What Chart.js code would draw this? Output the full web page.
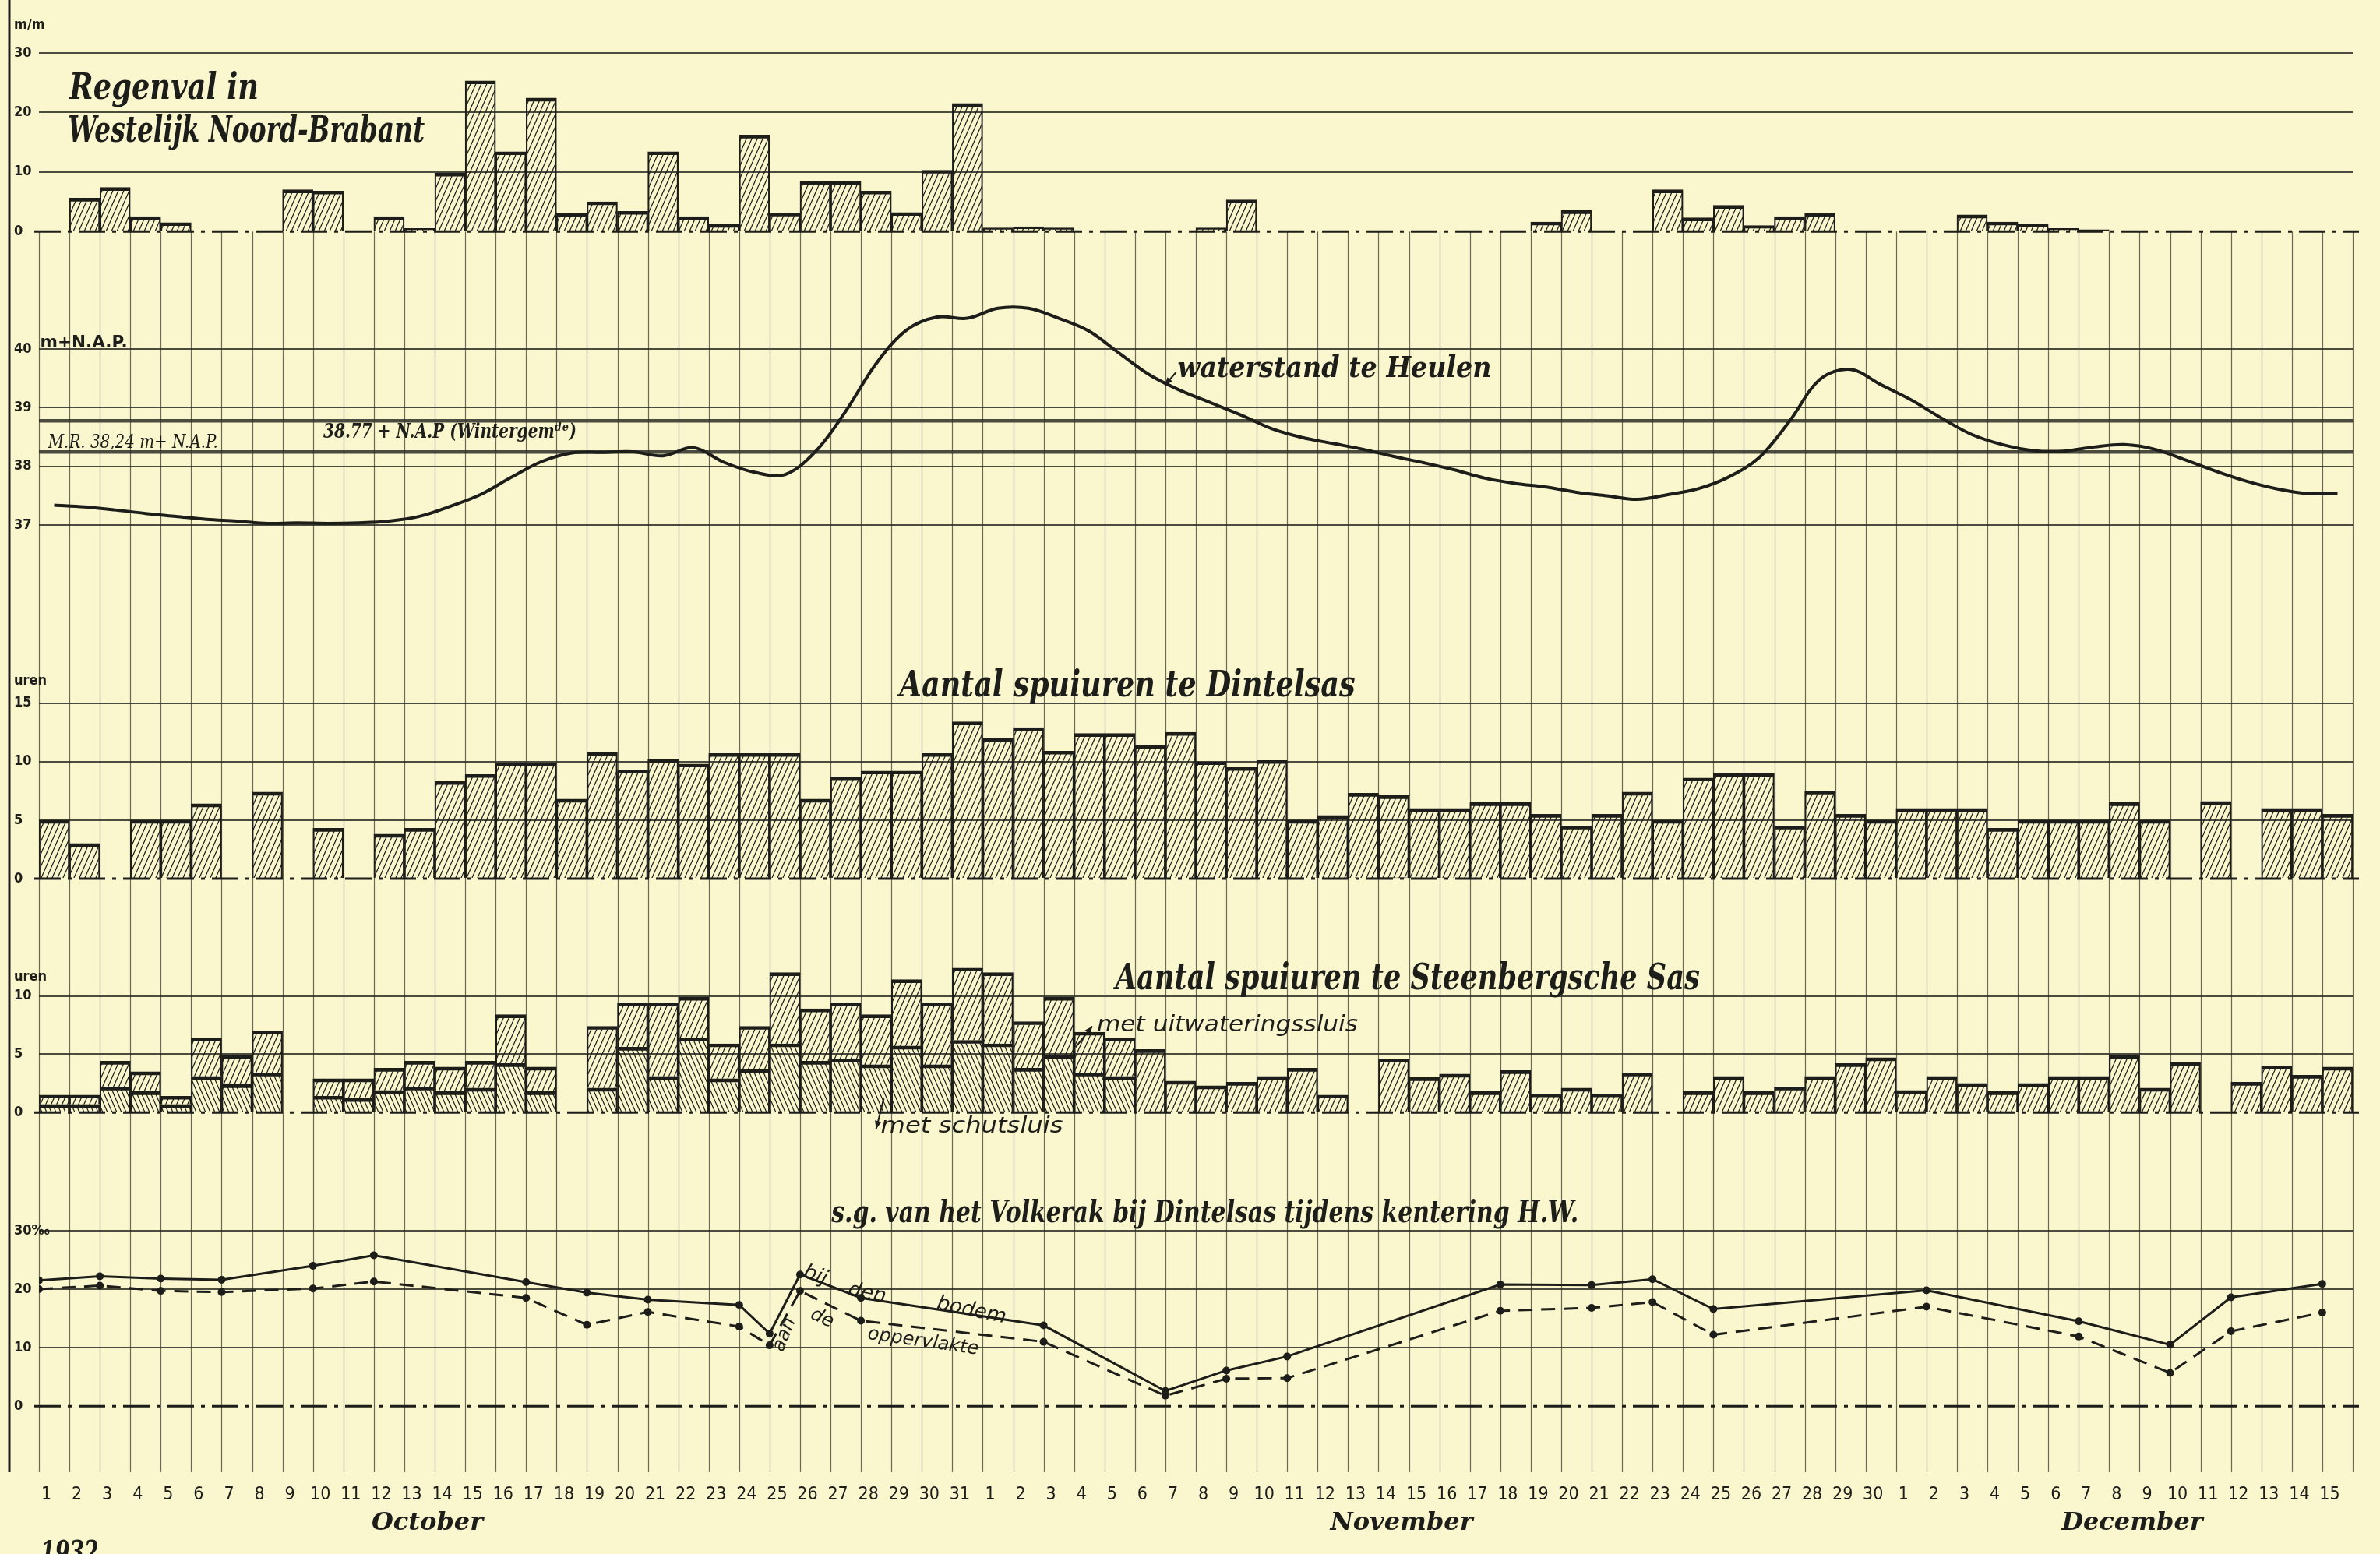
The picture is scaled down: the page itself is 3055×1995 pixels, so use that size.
<!DOCTYPE html>
<html lang="nl">
<head>
<meta charset="utf-8">
<title>Regenval, waterstand en spuiuren - 1932</title>
<script src="https://cdn.jsdelivr.net/npm/chart.js@4.4.1/dist/chart.umd.min.js"></script>
<style>
  html, body { margin: 0; padding: 0; background: #faf6cd; }
  #chart { display: block; }
</style>
</head>
<body>
<canvas id="chart" width="3055" height="1995"></canvas>
<script>
// ----------------------
// Data (1 Oct - 15 Dec)
// ----------------------
const dayLabels = [
    ...Array.from({ length: 31 }, (_, i) => String(i + 1)), // October
    ...Array.from({ length: 30 }, (_, i) => String(i + 1)), // November
    ...Array.from({ length: 15 }, (_, i) => String(i + 1))  // December
];
const monthNames = ['October', 'November', 'December'];
const monthNameAt = [12, 44, 68]; // column under which each month name is written

// Regenval in Westelijk Noord-Brabant (m/m)
const rainfall = [
    0, 5.6, 7.4, 2.5, 1.5, 0, 0, 0, 7.0, 6.8, 0, 2.5, 0.5, 9.8, 25.3, 13.4, 22.4, 3.0, 5.0, 3.4,
    13.4, 2.5, 1.2, 16.2, 3.1, 8.4, 8.4, 6.8, 3.2, 10.3, 21.5,
    0.6, 0.8, 0.6, 0, 0, 0, 0, 0.6, 5.3, 0, 0, 0, 0, 0, 0, 0, 0, 0, 1.6, 3.5,
    0, 0, 7.0, 2.3, 4.4, 1.0, 2.5, 3.0, 0, 0,
    0, 0, 2.8, 1.6, 1.3, 0.5, 0.3, 0, 0, 0, 0, 0, 0, 0, 0
];

// waterstand te Heulen (m + N.A.P.)
const waterLevel = [
    37.34, 37.31, 37.26, 37.20, 37.15, 37.10, 37.07, 37.03, 37.04, 37.03, 37.04, 37.07, 37.15, 37.32,
    37.52, 37.81, 38.08, 38.23, 38.24, 38.25, 38.18, 38.32, 38.07, 37.90, 37.86, 38.25, 38.94, 39.75,
    40.32, 40.54, 40.52,
    40.69, 40.69, 40.52, 40.30, 39.92, 39.55, 39.29, 39.08, 38.87, 38.64, 38.49, 38.39, 38.29, 38.17,
    38.06, 37.94, 37.80, 37.71, 37.65, 37.56, 37.50, 37.44, 37.52, 37.62, 37.82, 38.15, 38.77, 39.48,
    39.65, 39.39,
    39.13, 38.82, 38.54, 38.37, 38.27, 38.26, 38.33, 38.37, 38.29, 38.11, 37.92, 37.75, 37.62, 37.54, 37.54
];
const winterMean = 38.77; // 38.77 + N.A.P (Wintergemiddelde)
const mrLevel = 38.24;    // M.R. 38,24 m + N.A.P.

// Aantal spuiuren te Dintelsas
const dintelsasHours = [
    5.0, 3.0, 0, 5.0, 5.0, 6.4, 0, 7.4, 0, 4.3, 0, 3.8, 4.3, 8.3, 8.9, 9.9, 9.9, 6.8, 10.8, 9.3,
    10.2, 9.8, 10.7, 10.7, 10.7, 6.8, 8.7, 9.2, 9.2, 10.7, 13.4,
    12.0, 12.9, 10.9, 12.4, 12.4, 11.4, 12.5, 10.0, 9.5, 10.1, 5.0, 5.4, 7.3, 7.1, 6.0, 6.0, 6.5, 6.5,
    5.5, 4.5, 5.5, 7.4, 5.0, 8.6, 9.0, 9.0, 4.5, 7.5, 5.5, 5.0,
    6.0, 6.0, 6.0, 4.3, 5.0, 5.0, 5.0, 6.5, 5.0, 0, 6.6, 0, 6.0, 6.0, 5.5
];

// Aantal spuiuren te Steenbergsche Sas
const steenSchutsluis = [
    0.7, 0.7, 2.2, 1.8, 0.7, 3.1, 2.4, 3.4, 0, 1.4, 1.2, 1.9, 2.2, 1.8, 2.1, 4.2, 1.8, 0, 2.1, 5.6,
    3.1, 6.4, 2.9, 3.7, 5.9, 4.4, 4.6, 4.1, 5.7, 4.1, 6.2,
    5.9, 3.8, 4.9, 3.4, 3.1, 0, 0, 0, 0, 0, 0, 0, 0, 0, 0, 0, 0, 0, 0, 0, 0, 0, 0, 0, 0, 0, 0, 0, 0, 0,
    0, 0, 0, 0, 0, 0, 0, 0, 0, 0, 0, 0, 0, 0, 0
];
const steenUitwatering = [
    0.8, 0.8, 2.2, 1.7, 0.7, 3.3, 2.5, 3.6, 0, 1.5, 1.7, 1.9, 2.2, 2.1, 2.3, 4.2, 2.1, 0, 5.3, 3.8,
    6.3, 3.5, 3.0, 3.7, 6.1, 4.5, 4.8, 4.3, 5.7, 5.3, 6.2,
    6.1, 4.0, 5.0, 3.5, 3.3, 5.4, 2.7, 2.3, 2.6, 3.1, 3.8, 1.5, 0, 4.6, 3.0, 3.3, 1.8, 3.6, 1.6, 2.1,
    1.6, 3.4, 0, 1.8, 3.1, 1.8, 2.2, 3.1, 4.2, 4.7,
    1.9, 3.1, 2.5, 1.8, 2.5, 3.1, 3.1, 4.9, 2.1, 4.3, 0, 2.6, 4.0, 3.2, 3.9
];

// s.g. van het Volkerak bij Dintelsas tijdens kentering H.W. (promille)
// measuring days as position in the 76-day row (1 = 1 Oct, 32 = 1 Nov, 62 = 1 Dec)
const sgDays = [1, 3, 5, 7, 10, 12, 17, 19, 21, 24, 25, 26, 28, 34, 38, 40, 42, 49, 52, 54, 56, 63, 68, 71, 73, 76];
const sgBodem = [21.5, 22.2, 21.8, 21.6, 24.0, 25.8, 21.2, 19.4, 18.2, 17.3, 12.4, 22.5, 18.5, 13.8, 2.6,
    6.1, 8.5, 20.8, 20.7, 21.7, 16.6, 19.8, 14.5, 10.5, 18.6, 20.9];
const sgOppervlakte = [20.0, 20.6, 19.7, 19.5, 20.1, 21.3, 18.5, 13.9, 16.1, 13.6, 10.4, 19.7, 14.6, 11.0, 1.8,
    4.7, 4.8, 16.3, 16.8, 17.8, 12.2, 17.0, 11.9, 5.7, 12.8, 16.0];

// tick values and their texts per panel
const rainTicks = [0, 10, 20, 30];
const rainTickText = ['0', '10', '20', '30'];
const waterTicks = [37, 38, mrLevel, winterMean, 39, 40];
const waterTickText = ['37', '38', '', '', '39', '40'];
const dintelTicks = [0, 5, 10, 15];
const dintelTickText = ['0', '5', '10', '15'];
const steenTicks = [0, 5, 10];
const steenTickText = ['0', '5', '10'];
const sgTicks = [0, 10, 20, 30];
const sgTickText = ['0', '10', '20', ''];

const monthRow = dayLabels.map((_, i) => {
    const m = monthNameAt.indexOf(i);
    return m >= 0 ? monthNames[m] : '';
});

// ----------------------
// Look
// ----------------------
const PAPER = '#faf6cd';
const INK = '#1d1d1a';
const GRID = 'rgba(45,45,38,0.85)';
const DAYLINE = 'rgba(45,45,38,0.7)';
const SERIF = '"DejaVu Serif", "Liberation Serif", serif';
const SANS = '"DejaVu Sans", "Liberation Sans", sans-serif';
const TICKFONT = 'bold 18px "DejaVu Sans Condensed", "DejaVu Sans", sans-serif';

// diagonal hatching for the bars
function hatch(dir, step) {
    const c = document.createElement('canvas');
    c.width = step;
    c.height = Math.round(step * 2.3);
    const g = c.getContext('2d');
    g.strokeStyle = INK;
    g.lineWidth = 1.25;
    g.beginPath();
    for (const off of [-step, 0, step]) {
        if (dir > 0) { g.moveTo(off, c.height); g.lineTo(off + step, 0); }
        else { g.moveTo(off, 0); g.lineTo(off + step, c.height); }
    }
    g.stroke();
    return g.createPattern(c, 'repeat');
}
const hatchUp = hatch(1, 7);
const hatchDown = hatch(-1, 6);

const barBase = {
    type: 'bar',
    grouped: false,
    barPercentage: 1,
    categoryPercentage: 1,
    borderColor: INK,
    borderWidth: { top: 4, left: 1.5, right: 1.5, bottom: 0 }
};

// one left axis per panel, all stacked in one column
function panelAxis(o) {
    return {
        type: 'linear',
        position: 'left',
        stack: 'panels',
        stackWeight: o.band,
        weight: o.order,
        stacked: o.stacked,
        min: o.min,
        max: o.max,
        afterBuildTicks: axis => { axis.ticks = o.ticks.map(v => ({ value: v })); },
        afterFit: axis => { axis.width = 32; axis.paddingTop = 0; axis.paddingBottom = 0; },
        border: { display: false },
        grid: {
            drawTicks: false,
            color: c => (c.tick && (o.noLine || []).includes(c.tick.value)) ? 'rgba(0,0,0,0)' : GRID,
            lineWidth: c => (c.tick && (o.thick || []).includes(c.tick.value)) ? 4.5 : 2
        },
        ticks: {
            padding: 0,
            crossAlign: 'far',
            color: INK,
            font: { family: '"DejaVu Sans Condensed", "DejaVu Sans", sans-serif', weight: 'bold', size: 18 },
            callback: (v, i) => o.labels[i]
        }
    };
}

// ----------------------
// Text written on the sheet, placed in data units of the panels
// ----------------------
const notes = [
    { text: 'Regenval in', y: 'yr', at: [1.0, 22.2], font: 'bold italic 46px ' + SERIF, width: 243 },
    { text: 'Westelijk Noord-Brabant', y: 'yr', at: [0.95, 15.1], font: 'bold italic 46px ' + SERIF, width: 458 },
    { text: 'waterstand te Heulen', y: 'yw', at: [37.4, 39.52], font: 'bold italic 38px ' + SERIF, width: 403 },
    { text: '38.77 + N.A.P (Wintergem\u1d48\u1d49)', y: 'yw', at: [9.34, 38.49], font: 'bold italic 26px ' + SERIF, width: 325 },
    { text: 'M.R. 38,24 m+ N.A.P.', y: 'yw', at: [0.3, 38.31], font: 'italic 24px ' + SERIF, width: 218 },
    { text: 'm+N.A.P.', y: 'yw', at: [0.04, 40.03], font: 'bold 22px ' + SANS, width: 112 },
    { text: 'Aantal spuiuren te Dintelsas', y: 'yd', at: [35.75, 15.6], font: 'bold italic 46px ' + SERIF, width: 585, align: 'center' },
    { text: 'Aantal spuiuren te Steenbergsche Sas', y: 'ys', at: [35.36, 10.6], font: 'bold italic 46px ' + SERIF, width: 750 },
    { text: 'met uitwateringssluis', y: 'ys', at: [34.75, 7.0], font: 'italic 28px ' + SANS, width: 335 },
    { text: 'met schutsluis', y: 'ys', at: [27.65, -1.7], font: 'italic 28px ' + SANS, width: 234 },
    { text: 's.g. van het Volkerak bij Dintelsas tijdens kentering H.W.', y: 'yg', at: [38.3, 31.5], font: 'bold italic 40px ' + SERIF, width: 959, align: 'center' },
    { text: 'bij', y: 'yg', at: [25.5, 22.3], font: 'italic 26px ' + SANS, rotate: 20, align: 'center', base: 'middle' },
    { text: 'den', y: 'yg', at: [27.2, 19.25], font: 'italic 26px ' + SANS, rotate: 12, align: 'center', base: 'middle' },
    { text: 'bodem', y: 'yg', at: [30.63, 16.33], font: 'italic 26px ' + SANS, rotate: 12, align: 'center', base: 'middle' },
    { text: 'aan', y: 'yg', at: [24.49, 12.2], font: 'italic 24px ' + SANS, rotate: -68, align: 'center', base: 'middle' },
    { text: 'de', y: 'yg', at: [25.72, 15.0], font: 'italic 24px ' + SANS, rotate: 25, align: 'center', base: 'middle' },
    { text: 'oppervlakte', y: 'yg', at: [29.04, 11.0], font: 'italic 24px ' + SANS, rotate: 8, align: 'center', base: 'middle' }
];
// unit words at the left margin (x in page pixels, y in panel units)
const units = [
    { text: 'm/m', y: 'yr', v: 34.7 },
    { text: 'uren', y: 'yd', v: 16.9 },
    { text: 'uren', y: 'ys', v: 11.6 },
    { text: '30\u2030', y: 'yg', v: 30 }
];
const pointers = [
    { y: 'yw', from: [37.35, 39.6], to: [36.98, 39.38] },
    { y: 'ys', from: [34.05, 5.6], to: [34.6, 7.4] },
    { y: 'ys', from: [27.75, 1.2], to: [27.5, -1.4] }
];

function write(ctx, text, x, y, o) {
    ctx.save();
    ctx.translate(x, y);
    if (o.rotate) ctx.rotate(o.rotate * Math.PI / 180);
    ctx.font = o.font;
    ctx.fillStyle = INK;
    ctx.textAlign = o.align || 'left';
    ctx.textBaseline = o.base || 'alphabetic';
    if (o.width) ctx.scale(o.width / ctx.measureText(text).width, 1);
    ctx.fillText(text, 0, 0);
    ctx.restore();
}

function arrow(ctx, x1, y1, x2, y2) {
    const a = Math.atan2(y2 - y1, x2 - x1);
    ctx.save();
    ctx.strokeStyle = INK;
    ctx.fillStyle = INK;
    ctx.lineWidth = 2;
    ctx.beginPath(); ctx.moveTo(x1, y1); ctx.lineTo(x2, y2); ctx.stroke();
    ctx.beginPath();
    ctx.moveTo(x2, y2);
    ctx.lineTo(x2 - 11 * Math.cos(a - 0.4), y2 - 11 * Math.sin(a - 0.4));
    ctx.lineTo(x2 - 11 * Math.cos(a + 0.4), y2 - 11 * Math.sin(a + 0.4));
    ctx.closePath();
    ctx.fill();
    ctx.restore();
}

// ----------------------
// Paper, day grid, dash-dot zero lines and hand lettering
// ----------------------
const sheetPlugin = {
    id: 'sheet',
    beforeDraw(chart) {
        const { ctx, width, height, chartArea } = chart;
        ctx.save();
        ctx.fillStyle = PAPER;
        ctx.fillRect(0, 0, width, height);
        ctx.strokeStyle = INK;
        ctx.lineWidth = 3;
        ctx.beginPath(); ctx.moveTo(12, 0); ctx.lineTo(12, chartArea.bottom); ctx.stroke();
        ctx.restore();
    },
    beforeDatasetsDraw(chart) {
        const { ctx, chartArea, scales } = chart;
        const top = scales.yr.getPixelForValue(0);
        ctx.save();
        ctx.strokeStyle = DAYLINE;
        ctx.lineWidth = 1.2;
        for (let k = 0; k <= dayLabels.length; k++) {
            const px = Math.round(scales.xs.getPixelForValue(k)) + 0.5;
            ctx.beginPath(); ctx.moveTo(px, top); ctx.lineTo(px, chartArea.bottom); ctx.stroke();
        }
        ctx.strokeStyle = INK;
        ctx.lineWidth = 3;
        ctx.setLineDash([34, 9, 5, 9]);
        ['yr', 'yd', 'ys', 'yg'].forEach(id => {
            const py = scales[id].getPixelForValue(0);
            ctx.beginPath(); ctx.moveTo(chartArea.left - 6, py); ctx.lineTo(chartArea.right + 8, py); ctx.stroke();
        });
        ctx.restore();
    },
    afterDatasetsDraw(chart) {
        const { ctx, scales } = chart;
        const xs = scales.xs;
        notes.forEach(n => write(ctx, n.text, xs.getPixelForValue(n.at[0]), scales[n.y].getPixelForValue(n.at[1]), n));
        units.forEach(u => write(ctx, u.text, 18, scales[u.y].getPixelForValue(u.v), { font: TICKFONT, base: 'middle' }));
        pointers.forEach(p => arrow(ctx,
            xs.getPixelForValue(p.from[0]), scales[p.y].getPixelForValue(p.from[1]),
            xs.getPixelForValue(p.to[0]), scales[p.y].getPixelForValue(p.to[1])));
        write(ctx, '1932.', 52, 1976, { font: 'bold italic 40px ' + SERIF, base: 'top', width: 84 });
    }
};

// ----------------------
// Chart
// ----------------------
new Chart(document.getElementById('chart'), {
    type: 'bar',
    data: {
        labels: dayLabels,
        datasets: [
            { ...barBase, label: 'Regenval', data: rainfall, yAxisID: 'yr', backgroundColor: hatchUp },
            {
                type: 'line', label: 'waterstand te Heulen', data: waterLevel, yAxisID: 'yw',
                borderColor: INK, borderWidth: 4, pointRadius: 0, tension: 0.35, fill: false
            },
            { ...barBase, label: 'spuiuren Dintelsas', data: dintelsasHours, yAxisID: 'yd', backgroundColor: hatchUp },
            { ...barBase, label: 'met schutsluis', data: steenSchutsluis, yAxisID: 'ys', stack: 'steen', backgroundColor: hatchDown },
            { ...barBase, label: 'met uitwateringssluis', data: steenUitwatering, yAxisID: 'ys', stack: 'steen', backgroundColor: hatchUp },
            {
                type: 'line', label: 'bij den bodem', xAxisID: 'xs', yAxisID: 'yg',
                data: sgDays.map((d, i) => ({ x: d - 1, y: sgBodem[i] })),
                borderColor: INK, borderWidth: 3, tension: 0,
                pointRadius: 5, pointBackgroundColor: INK, pointBorderWidth: 0
            },
            {
                type: 'line', label: 'aan de oppervlakte', xAxisID: 'xs', yAxisID: 'yg',
                data: sgDays.map((d, i) => ({ x: d - 1, y: sgOppervlakte[i] })),
                borderColor: INK, borderWidth: 3, borderDash: [18, 11], tension: 0,
                pointRadius: 5, pointBackgroundColor: INK, pointBorderWidth: 0
            }
        ]
    },
    options: {
        responsive: false,
        animation: false,
        devicePixelRatio: 1,
        layout: { padding: { left: 18, right: 35, top: 0, bottom: 25 } },
        plugins: { legend: { display: false }, tooltip: { enabled: false } },
        scales: {
            x: {
                type: 'category', position: 'bottom', weight: 0, offset: true,
                grid: { display: false }, border: { display: false },
                afterFit: axis => { axis.height = 36; axis.paddingLeft = 0; axis.paddingRight = 0; },
                ticks: {
                    autoSkip: false, maxRotation: 0, minRotation: 0, padding: 7, labelOffset: -10, color: INK,
                    font: { family: '"Liberation Sans Narrow", "DejaVu Sans Condensed", sans-serif', size: 23 }
                }
            },
            xm: {
                type: 'category', labels: monthRow, position: 'bottom', weight: 1, offset: true,
                grid: { display: false }, border: { display: false },
                afterFit: axis => { axis.height = 44; axis.paddingLeft = 0; axis.paddingRight = 0; },
                ticks: {
                    autoSkip: false, maxRotation: 0, minRotation: 0, padding: 2, labelOffset: 10, color: INK,
                    font: { family: SERIF, style: 'italic', weight: 'bold', size: 32 }
                }
            },
            xs: {
                type: 'linear', display: false, offset: false, grid: { offset: false },
                min: 0, max: dayLabels.length
            },
            yr: panelAxis({ band: 310, order: 5, min: -2.22, max: 38.22, ticks: rainTicks, labels: rainTickText, noLine: [0] }),
            yw: panelAxis({ band: 450, order: 4, min: 35.824, max: 41.771, ticks: waterTicks, labels: waterTickText, thick: [mrLevel, winterMean] }),
            yd: panelAxis({ band: 390, order: 3, min: -1.593, max: 24.29, ticks: dintelTicks, labels: dintelTickText, noLine: [0] }),
            ys: panelAxis({ band: 310, order: 2, min: -2.2, max: 18.467, ticks: steenTicks, labels: steenTickText, noLine: [0], stacked: true }),
            yg: panelAxis({ band: 430, order: 1, min: -11.28, max: 45.8, ticks: sgTicks, labels: sgTickText, noLine: [0] })
        }
    },
    plugins: [sheetPlugin]
});
</script>
</body>
</html>
